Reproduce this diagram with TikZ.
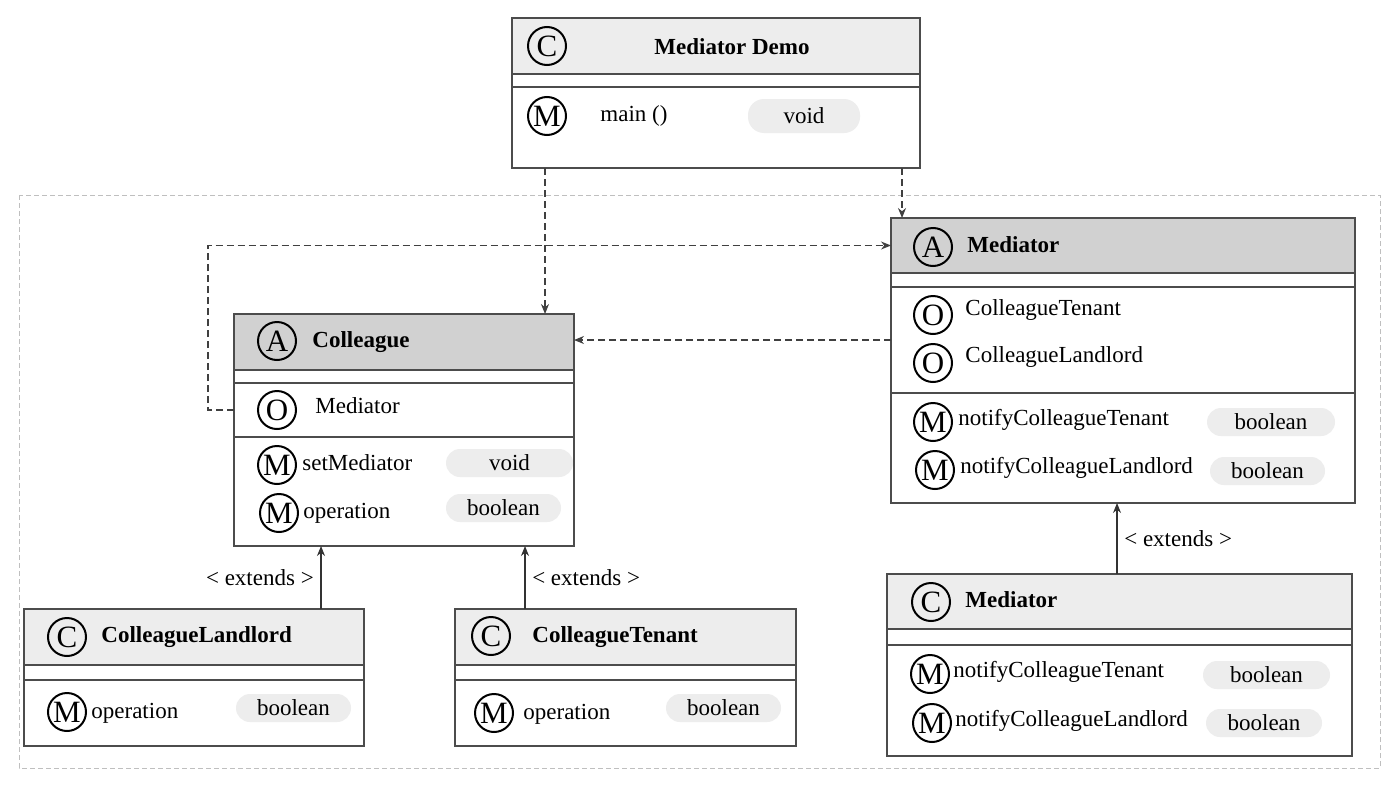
\documentclass[tikz,border=0pt]{standalone}
\usepackage{fontspec}
\setmainfont{Liberation Serif}
\usetikzlibrary{positioning,arrows.meta}

\tikzset{
  part/.style = {draw=black!70, line width=0.7pt, fill=white, anchor=north west, inner sep=0pt, outer sep=0pt},
  light/.style = {fill=black!7},
  dark/.style = {fill=black!18},
  badge/.style = {circle, draw, line width=1pt, minimum size=19pt, inner sep=0pt, font=\fontsize{15.5}{15.5}\selectfont},
  title/.style = {anchor=west, inner sep=0pt, font=\fontsize{11.5}{13}\selectfont\bfseries},
  member/.style = {anchor=west, inner sep=0pt},
  pill/.style = {fill=black!7, rounded corners=7pt, minimum height=14pt, inner sep=0pt},
  dep/.style = {draw=black!75, line width=0.6pt, dash pattern=on 3.5pt off 2pt, -{Stealth[length=5pt, width=4pt]}},
  ext/.style = {draw=black!80, line width=0.6pt, -{Stealth[length=5pt, width=4pt]}},
  frame/.style = {draw=black!25, line width=0.5pt, dash pattern=on 2.5pt off 1.5pt}
}

\begin{document}
\begin{tikzpicture}[x=0.5pt, y=-0.5pt, font=\fontsize{11.5}{13}\selectfont]
\useasboundingbox (0,0) rectangle (1395,787);

% package frame
\draw[frame] (19,195) rectangle (1380,768);

% Mediator Demo
\node[part, light, minimum width=204pt, minimum height=28pt] (demo) at (512,18) {};
\node[part, minimum width=204pt, minimum height=6.5pt, below=0pt of demo] (demo-gap) {};
\node[part, minimum width=204pt, minimum height=40.5pt, below=0pt of demo-gap] (demo-ops) {};
\node[badge] (demo-c) at (547,46) {C};
\node[title, anchor=center] (demo-name) at (732,47) {Mediator Demo};
\node[badge] (demo-m) at (547,116) {M};
\node[member] (demo-main) at (600,116) {main ()};
\node[pill, minimum width=56pt, minimum height=17pt, rounded corners=8pt] (demo-void) at (804,116) {void};

% Colleague
\node[part, dark, minimum width=170pt, minimum height=28pt] (col) at (234,314) {};
\node[part, minimum width=170pt, minimum height=6.5pt, below=0pt of col] (col-gap) {};
\node[part, minimum width=170pt, minimum height=27pt, below=0pt of col-gap] (col-attrs) {};
\node[part, minimum width=170pt, minimum height=54.5pt, below=0pt of col-attrs] (col-ops) {};
\node[badge] (col-a) at (277,341) {A};
\node[title] (col-name) at (312,342) {Colleague};
\node[badge] (col-o) at (277,410) {O};
\node[member] (col-med) at (315,406) {Mediator};
\node[badge] (col-m1) at (277,465) {M};
\node[member] (col-set) at (302,463) {setMediator};
\node[pill, minimum width=63.5pt] (col-void) at (509.5,463) {void};
\node[badge] (col-m2) at (279,513) {M};
\node[member] (col-op) at (303,513) {operation};
\node[pill, minimum width=57.5pt] (col-bool) at (503.5,508) {boolean};

% Mediator
\node[part, dark, minimum width=232pt, minimum height=27.5pt] (med) at (891,218) {};
\node[part, minimum width=232pt, minimum height=7pt, below=0pt of med] (med-gap) {};
\node[part, minimum width=232pt, minimum height=53pt, below=0pt of med-gap] (med-attrs) {};
\node[part, minimum width=232pt, minimum height=55pt, below=0pt of med-attrs] (med-ops) {};
\node[badge] (med-a) at (933,247) {A};
\node[title] (med-name) at (967,245) {Mediator};
\node[badge] (med-o1) at (933,315) {O};
\node[member] (med-ten) at (965,310) {ColleagueTenant};
\node[badge] (med-o2) at (933,363) {O};
\node[member] (med-land) at (965,357) {ColleagueLandlord};
\node[badge] (med-m1) at (933,422) {M};
\node[member] (med-nt) at (958,420) {notifyColleagueTenant};
\node[pill, minimum width=64pt] (med-bool1) at (1271,422) {boolean};
\node[badge] (med-m2) at (935,470) {M};
\node[member] (med-nl) at (960,468) {notifyColleagueLandlord};
\node[pill, minimum width=57.5pt] (med-bool2) at (1267.5,471) {boolean};

% ColleagueLandlord
\node[part, light, minimum width=170pt, minimum height=28pt] (land) at (24,609) {};
\node[part, minimum width=170pt, minimum height=7.5pt, below=0pt of land] (land-gap) {};
\node[part, minimum width=170pt, minimum height=33pt, below=0pt of land-gap] (land-ops) {};
\node[badge] (land-c) at (67,637) {C};
\node[title] (land-name) at (101,637) {ColleagueLandlord};
\node[badge] (land-m) at (67,712) {M};
\node[member] (land-op) at (91,713) {operation};
\node[pill, minimum width=57.5pt] (land-bool) at (293.5,708) {boolean};

% ColleagueTenant
\node[part, light, minimum width=170.5pt, minimum height=28pt] (ten) at (455,609) {};
\node[part, minimum width=170.5pt, minimum height=7.5pt, below=0pt of ten] (ten-gap) {};
\node[part, minimum width=170.5pt, minimum height=33pt, below=0pt of ten-gap] (ten-ops) {};
\node[badge] (ten-c) at (491,636) {C};
\node[title] (ten-name) at (532,637) {ColleagueTenant};
\node[badge] (ten-m) at (494,713) {M};
\node[member] (ten-op) at (523,714) {operation};
\node[pill, minimum width=57.5pt] (ten-bool) at (723.5,708) {boolean};

% Mediator (concrete)
\node[part, light, minimum width=232.5pt, minimum height=27.5pt] (impl) at (887,574) {};
\node[part, minimum width=232.5pt, minimum height=8pt, below=0pt of impl] (impl-gap) {};
\node[part, minimum width=232.5pt, minimum height=55.5pt, below=0pt of impl-gap] (impl-ops) {};
\node[badge] (impl-c) at (931,602) {C};
\node[title] (impl-name) at (965,600) {Mediator};
\node[badge] (impl-m1) at (930,674) {M};
\node[member] (impl-nt) at (953,672) {notifyColleagueTenant};
\node[pill, minimum width=63.5pt] (impl-bool1) at (1266.5,675) {boolean};
\node[badge] (impl-m2) at (932,723) {M};
\node[member] (impl-nl) at (955,721) {notifyColleagueLandlord};
\node[pill, minimum width=58pt] (impl-bool2) at (1264,723) {boolean};

% connectors
\coordinate (x1) at (545,0);
\coordinate (x2) at (902,0);
\coordinate (x3) at (321,0);
\coordinate (x4) at (525,0);
\coordinate (x5) at (1117,0);

\draw[dep] (demo-ops.south -| x1) -- (col.north -| x1);
\draw[dep] (demo-ops.south -| x2) -- (med.north -| x2);
\draw[dep] (col-attrs.west) -- ++(-26,0) |- (med.west);
\draw[dep] (med-attrs.west) -- (med-attrs.west -| col.east);

\draw[ext] (land.north -| x3) -- node[left] {< extends >} (col-ops.south -| x3);
\draw[ext] (ten.north -| x4) -- node[right] {< extends >} (col-ops.south -| x4);
\draw[ext] (impl.north -| x5) -- node[right] {< extends >} (med-ops.south -| x5);

\end{tikzpicture}
\end{document}
